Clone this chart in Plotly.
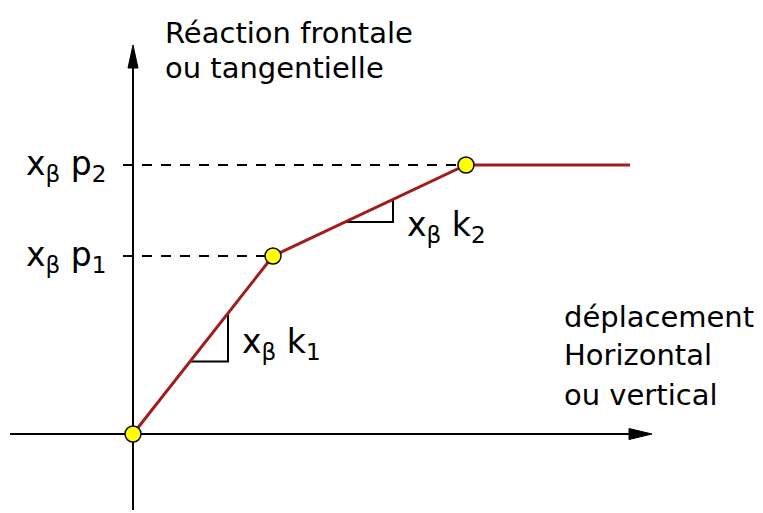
import plotly.graph_objects as go

# Piecewise-linear reaction law (arbitrary units)
displacement = [0, 140, 333, 497]
reaction = [0, 178, 269, 269]
point_disp = [0, 140, 333]
point_reac = [0, 178, 269]

level_labels = ["x<sub>β</sub> p<sub>1</sub>", "x<sub>β</sub> p<sub>2</sub>"]
slope_labels = ["x<sub>β</sub> k<sub>1</sub>", "x<sub>β</sub> k<sub>2</sub>"]
y_title = ["Réaction frontale", "ou tangentielle"]
x_title = ["déplacement", "Horizontal", "ou vertical"]

FONT = "DejaVu Sans"
RED = "#a11d1d"

fig = go.Figure()

# dashed guides from the vertical axis to the plateau levels
for xv, yv in zip(point_disp[1:], point_reac[1:]):
    fig.add_trace(go.Scatter(
        x=[-10, xv], y=[yv, yv], mode="lines",
        line=dict(color="black", width=2, dash="10px,9px"),
        hoverinfo="skip", showlegend=False))

# slope triangles on the two rising segments
tri_fracs = [(57 / 140, 95 / 140), (72 / 193, 120 / 193)]
tri_shift = [18, -4]
for i, (fa, fb) in enumerate(tri_fracs):
    x0, y0 = displacement[i], reaction[i]
    x1, y1 = displacement[i + 1], reaction[i + 1]
    xa = x0 + fa * (x1 - x0)
    ya = y0 + fa * (y1 - y0)
    xb = x0 + fb * (x1 - x0)
    yb = y0 + fb * (y1 - y0)
    fig.add_trace(go.Scatter(
        x=[xa, xb, xb], y=[ya, ya, yb], mode="lines",
        line=dict(color="black", width=2),
        hoverinfo="skip", showlegend=False))
    fig.add_annotation(x=xb, y=ya, text=slope_labels[i], showarrow=False,
                       xanchor="left", yanchor="middle", xshift=12,
                       yshift=tri_shift[i],
                       font=dict(family=FONT, size=33, color="black"))

# reaction curve
fig.add_trace(go.Scatter(
    x=displacement, y=reaction, mode="lines",
    line=dict(color=RED, width=3),
    hoverinfo="skip", showlegend=False))

# break points
fig.add_trace(go.Scatter(
    x=point_disp, y=point_reac, mode="markers",
    marker=dict(size=16, color="#ffff00", line=dict(color="black", width=1.5)),
    hoverinfo="skip", showlegend=False))

# level labels left of the vertical axis
for yv, txt in zip(point_reac[1:], level_labels):
    fig.add_annotation(x=-25, y=yv, text=txt, showarrow=False,
                       xanchor="right", yanchor="middle",
                       font=dict(family=FONT, size=33, color="black"))

# axes with arrow heads, kept beneath the curve and markers
axis_shapes = [
    dict(type="line", x0=0, y0=-76, x1=0, y1=370,
         line=dict(color="black", width=2)),
    dict(type="path", path="M 0 389 L -5 366 L 5 366 Z",
         fillcolor="black", line=dict(color="black", width=1)),
    dict(type="line", x0=-123, y0=0, x1=500, y1=0,
         line=dict(color="black", width=2)),
    dict(type="path", path="M 519 0 L 496 5.5 L 496 -5.5 Z",
         fillcolor="black", line=dict(color="black", width=1)),
]
for s in axis_shapes:
    fig.add_shape(layer="below", **s)

# axis titles
for txt, yv in zip(y_title, [401, 366]):
    fig.add_annotation(x=30, y=yv, text=txt, showarrow=False,
                       xanchor="left", yanchor="middle",
                       font=dict(family=FONT, size=29, color="black"))
for txt, yv in zip(x_title, [117, 79, 39]):
    fig.add_annotation(x=429, y=yv, text=txt, showarrow=False,
                       xanchor="left", yanchor="middle",
                       font=dict(family=FONT, size=29, color="black"))

fig.update_xaxes(range=[-133, 630], visible=False, fixedrange=True)
fig.update_yaxes(range=[-79, 434], visible=False, fixedrange=True)
fig.update_layout(
    width=763, height=513, autosize=False,
    margin=dict(l=0, r=0, t=0, b=0),
    paper_bgcolor="white", plot_bgcolor="white",
    showlegend=False,
)

fig.write_html("out.html")
